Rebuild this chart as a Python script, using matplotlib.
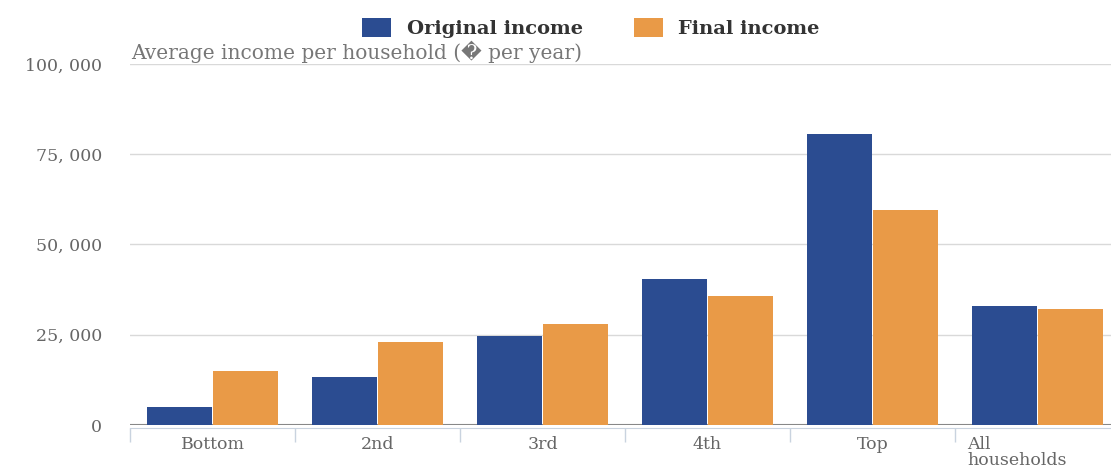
import numpy as np
import matplotlib.pyplot as plt

# Income per household by quintile (GBP per year)
categories = ['Bottom', '2nd', '3rd', '4th', 'Top', 'All\nhouseholds']
original_income = [5000, 13300, 24700, 40400, 80600, 33000]
final_income = [15000, 23000, 28000, 35700, 59600, 32100]
y_ticks = [0, 25000, 50000, 75000, 100000]

blue = '#2b4c91'
orange = '#e99a47'
text_col = '#666666'

plt.rcParams['font.family'] = ['DejaVu Serif', 'DejaVu Sans']

fig = plt.figure(figsize=(11.11, 4.73), dpi=100)
# axes runs a little past the right edge, like the reference
ax = fig.add_axes([130/1111, 48/473, 990/1111, 361/473])

x = np.arange(len(categories)) + 0.5
w = 65/165
off = 33/165
b1 = ax.bar(x - off, original_income, width=w, color=blue, zorder=3)
b2 = ax.bar(x + off, final_income, width=w, color=orange, zorder=3)

ax.set_xlim(0, len(categories))
ax.set_ylim(0, 100000)

# grid and zero line
ax.set_yticks(y_ticks)
ax.set_yticklabels(['0' if v == 0 else f'{v:,}'.replace(',', ', ') for v in y_ticks],
                   color=text_col, fontsize=12.5)
ax.yaxis.grid(True, color='#d9d9d9', linewidth=1)
ax.axhline(0, color='#888888', linewidth=1.5, zorder=2)
ax.tick_params(axis='y', length=0, pad=20)

for s in ['top', 'right', 'left']:
    ax.spines[s].set_visible(False)
ax.spines['bottom'].set_position(('outward', 2))
ax.spines['bottom'].set_color('#c9d3df')
ax.set_xticks(np.arange(len(categories)))
ax.set_xticklabels([])
ax.tick_params(axis='x', length=10, color='#c9d3df', width=1)
ax.set_axisbelow(True)

# category labels
for i, lab in enumerate(categories):
    if '\n' in lab:
        ax.text(i + 12/165, -0.03, lab, transform=ax.get_xaxis_transform(),
                ha='left', va='top', color=text_col, fontsize=12.5, linespacing=0.95)
    else:
        ax.text(x[i], -0.03, lab, transform=ax.get_xaxis_transform(),
                ha='center', va='top', color=text_col, fontsize=12.5)

ax.text(0.001, 1.004, 'Average income per household (\ufffd per year)',
        transform=ax.transAxes, ha='left', va='bottom', color='#777777', fontsize=14.5)

fig.legend([b1, b2], ['Original income', 'Final income'], loc='center',
           bbox_to_anchor=(591/1111, 1 - 28/473), ncol=2, frameon=False,
           prop={'weight': 'bold', 'size': 14}, labelcolor='#333333',
           handlelength=1.5, handleheight=1.1, columnspacing=2.6, handletextpad=0.8)

fig.savefig('out.png', dpi=100)
